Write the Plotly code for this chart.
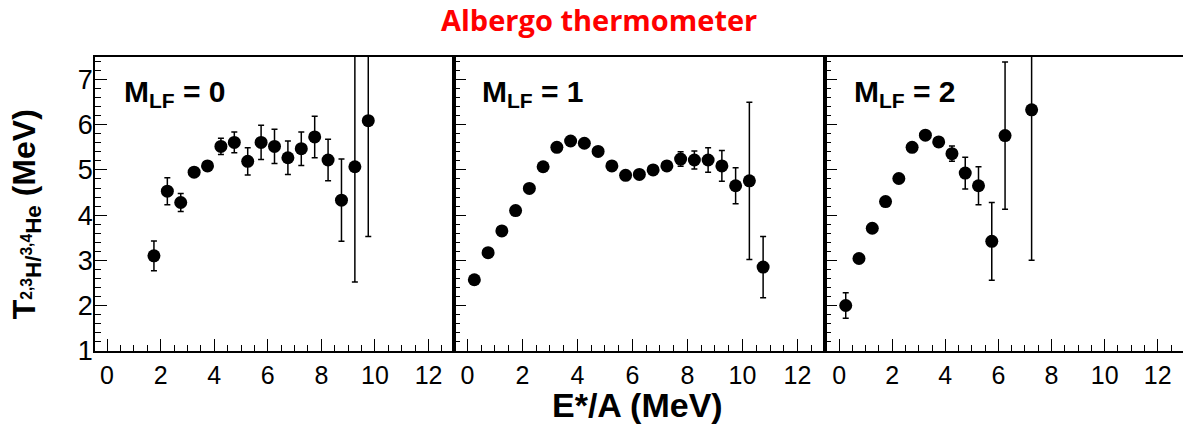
import plotly.graph_objects as go

# Albergo (2,3H / 3,4He) temperature vs excitation energy per nucleon, by M_LF
x_m0 = [1.75, 2.25, 2.75, 3.25, 3.75, 4.25, 4.75, 5.25, 5.75, 6.25, 6.75, 7.25, 7.75, 8.25, 8.75, 9.25, 9.75]
t_m0 = [3.10, 4.53, 4.28, 4.95, 5.09, 5.52, 5.61, 5.19, 5.61, 5.52, 5.27, 5.47, 5.73, 5.22, 4.33, 5.07, 6.09]
e_m0 = [0.33, 0.30, 0.20, 0.05, 0.05, 0.18, 0.23, 0.30, 0.38, 0.38, 0.37, 0.37, 0.46, 0.46, 0.91, 2.55, 2.56]

x_m1 = [0.25, 0.75, 1.25, 1.75, 2.25, 2.75, 3.25, 3.75, 4.25, 4.75, 5.25, 5.75, 6.25, 6.75, 7.25, 7.75,
        8.25, 8.75, 9.25, 9.75, 10.25, 10.75]
t_m1 = [2.57, 3.17, 3.65, 4.10, 4.59, 5.07, 5.50, 5.64, 5.59, 5.41, 5.09, 4.88, 4.90, 5.00, 5.09, 5.24,
        5.22, 5.22, 5.09, 4.65, 4.76, 2.85]
e_m1 = [0.03, 0.03, 0.03, 0.03, 0.03, 0.03, 0.03, 0.03, 0.03, 0.03, 0.03, 0.03, 0.03, 0.04, 0.06, 0.16,
        0.20, 0.27, 0.34, 0.40, 1.74, 0.68]

x_m2 = [0.25, 0.75, 1.25, 1.75, 2.25, 2.75, 3.25, 3.75, 4.25, 4.75, 5.25, 5.75, 6.25, 7.25]
t_m2 = [2.00, 3.04, 3.71, 4.30, 4.81, 5.50, 5.77, 5.62, 5.36, 4.93, 4.65, 3.42, 5.76, 6.33]
e_m2 = [0.28, 0.03, 0.03, 0.03, 0.03, 0.03, 0.03, 0.03, 0.17, 0.35, 0.42, 0.86, 1.63, 3.33]

panel_labels = ["M<sub>LF</sub> = 0", "M<sub>LF</sub> = 1", "M<sub>LF</sub> = 2"]
x_tick_vals = [0, 2, 4, 6, 8, 10, 12]
y_tick_vals = [1, 2, 3, 4, 5, 6, 7]

W, H = 1183, 433
x_domains = [(95, 454), (454, 825), (825, 1183)]
x_ranges = [(-0.45, 12.95), (-0.49, 13.0), (-0.53, 12.95)]
y_dom = (1 - 363.3 / H, 1 - 59 / H)
label_x = [122, 480, 852]

fig = go.Figure()
series = [(x_m0, t_m0, e_m0), (x_m1, t_m1, e_m1), (x_m2, t_m2, e_m2)]
for i, (xs, ts, es) in enumerate(series):
    sfx = "" if i == 0 else str(i + 1)
    fig.add_trace(go.Scatter(
        x=xs, y=ts, mode="markers",
        marker=dict(color="black", size=13, line=dict(width=0)),
        error_y=dict(type="data", array=es, visible=True, color="black", thickness=1.5, width=3),
        xaxis="x" + sfx, yaxis="y" + sfx, showlegend=False,
    ))

layout = dict(
    width=W, height=H, margin=dict(l=0, r=0, t=0, b=0),
    paper_bgcolor="white", plot_bgcolor="white",
    font=dict(family="Liberation Sans, Arial, sans-serif", color="black"),
)
for i in range(3):
    sfx = "" if i == 0 else str(i + 1)
    d0, d1 = x_domains[i]
    layout["xaxis" + sfx] = dict(
        domain=[d0 / W, min(d1 / W, 1.0)], range=list(x_ranges[i]), anchor="y" + sfx,
        showgrid=False, zeroline=False, showline=True, linecolor="black", linewidth=1.5, mirror=True,
        ticks="inside", ticklen=12, tickwidth=1.2, tickcolor="black",
        tickvals=x_tick_vals, ticktext=[str(v) for v in x_tick_vals],
        tickfont=dict(size=25, color="black"), ticklabelstandoff=2,
        minor=dict(dtick=0.5, ticks="inside", ticklen=6, tickwidth=1.2, tickcolor="black", showgrid=False),
    )
    layout["yaxis" + sfx] = dict(
        domain=list(y_dom), range=[1, 7.5], anchor="x" + sfx,
        showgrid=False, zeroline=False, showline=True, linecolor="black", linewidth=1.5,
        mirror=(i < 2),
        ticks="inside", ticklen=12, tickwidth=1.2, tickcolor="black",
        tickvals=y_tick_vals, ticktext=[str(v) for v in y_tick_vals],
        showticklabels=(i == 0), tickfont=dict(size=27, color="black"), ticklabelstandoff=-5,
        minor=dict(dtick=0.2, ticks="inside", ticklen=6, tickwidth=1.2, tickcolor="black", showgrid=False),
    )

annotations = [
    dict(text="<b>Albergo thermometer</b>", x=599 / W, y=1 - 20 / H, xref="paper", yref="paper",
         xanchor="center", yanchor="middle", showarrow=False,
         font=dict(family="Open Sans, sans-serif", size=29, color="#ff0000")),
    dict(text="<b>E*/A (MeV)</b>", x=637 / W, y=1 - 420 / H, xref="paper", yref="paper",
         xanchor="center", yanchor="middle", showarrow=False, font=dict(size=34)),
    dict(text="<b>T<sub><sup>2,3</sup>H/<sup>3,4</sup>He</sub> (MeV)</b>", x=26 / W, y=1 - 222 / H,
         xref="paper", yref="paper", xanchor="center", yanchor="middle", textangle=-90,
         showarrow=False, font=dict(size=32)),
]
for i, txt in enumerate(panel_labels):
    annotations.append(dict(
        text="<b>" + txt + "</b>", x=label_x[i] / W, y=1 - 97 / H, xref="paper", yref="paper",
        xanchor="left", yanchor="middle", showarrow=False, font=dict(size=30)))
layout["annotations"] = annotations

fig.update_layout(**layout)
fig.write_html("out.html")
